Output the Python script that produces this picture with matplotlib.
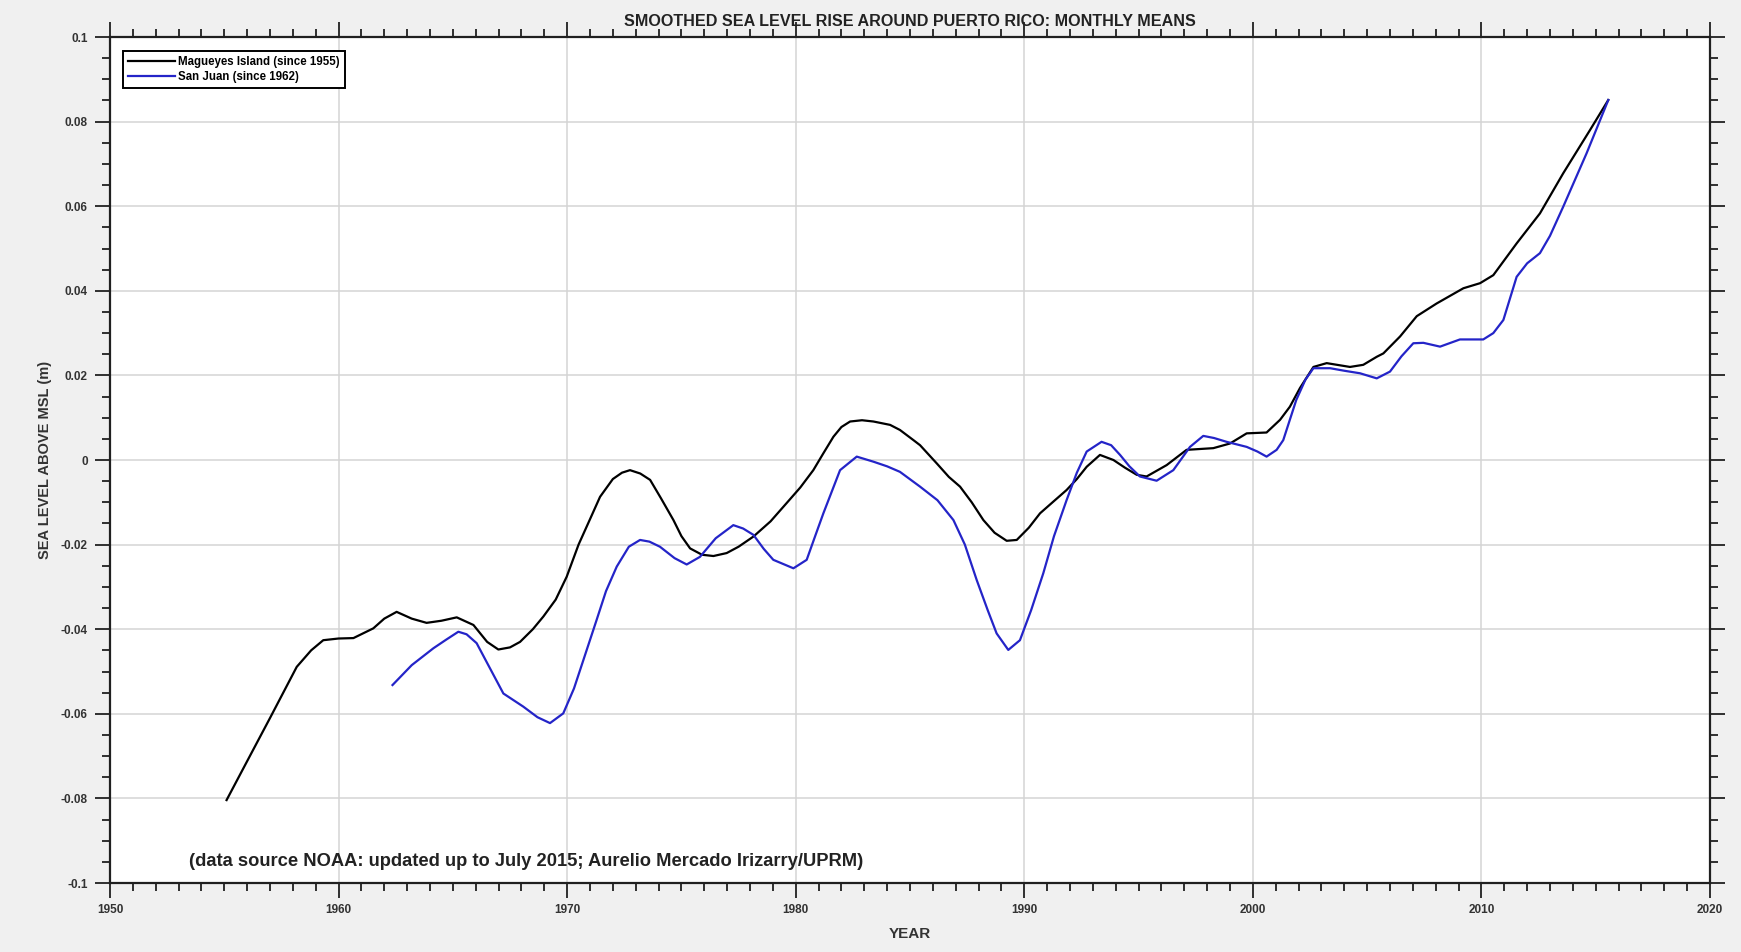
import matplotlib
matplotlib.use("Agg")
import matplotlib.pyplot as plt
from matplotlib.ticker import MultipleLocator, FuncFormatter

# ---- data ----
mag_year = [1955.1, 1956.0, 1957.0, 1958.17, 1958.8, 1959.33, 1960.0, 1960.65, 1961.52, 1962.0,
            1962.54, 1963.2, 1963.85, 1964.5, 1965.17, 1965.9, 1966.5, 1966.99, 1967.5, 1967.94,
            1968.5, 1968.96, 1969.5, 1969.98, 1970.5, 1971.0, 1971.44, 1972.0, 1972.4, 1972.75,
            1973.2, 1973.63, 1974.1, 1974.65, 1975.0, 1975.38, 1975.9, 1976.4, 1976.98, 1977.5,
            1978.15, 1978.9, 1979.6, 1980.2, 1980.77, 1981.2, 1981.65, 1982.0, 1982.38, 1982.9,
            1983.4, 1984.13, 1984.56, 1985.15, 1985.44, 1986.17, 1986.7, 1987.19, 1987.7, 1988.21,
            1988.7, 1989.23, 1989.67, 1990.2, 1990.69, 1991.3, 1991.85, 1992.3, 1992.73, 1993.31,
            1993.9, 1994.4, 1994.92, 1995.35, 1996.23, 1997.1, 1998.27, 1999.0, 1999.73, 2000.6,
            2001.19, 2001.62, 2002.06, 2002.65, 2003.23, 2004.25, 2004.83, 2005.42, 2005.71, 2006.44,
            2007.17, 2008.04, 2009.21, 2009.94, 2010.52, 2011.54, 2012.56, 2013.58, 2014.75, 2015.55]
mag_level = [-0.0804, -0.0712, -0.0610, -0.0489, -0.0450, -0.0426, -0.0422, -0.0421, -0.0398, -0.0375,
             -0.0359, -0.0375, -0.0385, -0.0380, -0.0372, -0.0390, -0.0430, -0.0448, -0.0443, -0.0430,
             -0.0400, -0.0370, -0.0330, -0.0276, -0.0200, -0.0140, -0.0087, -0.0045, -0.0030, -0.0024,
             -0.0032, -0.0047, -0.0090, -0.0142, -0.0180, -0.0209, -0.0224, -0.0227, -0.0220, -0.0205,
             -0.0181, -0.0145, -0.0102, -0.0065, -0.0024, 0.0015, 0.0055, 0.0078, 0.0091, 0.0094,
             0.0091, 0.0083, 0.0071, 0.0047, 0.0035, -0.0008, -0.0040, -0.0063, -0.0100, -0.0142,
             -0.0172, -0.0191, -0.0189, -0.0160, -0.0126, -0.0097, -0.0071, -0.0045, -0.0016, 0.0012,
             0.0000, -0.0018, -0.0035, -0.0039, -0.0012, 0.0024, 0.0028, 0.0039, 0.0063, 0.0065,
             0.0095, 0.0126, 0.0170, 0.0220, 0.0229, 0.0220, 0.0225, 0.0244, 0.0252, 0.0292,
             0.0340, 0.0370, 0.0406, 0.0418, 0.0437, 0.0512, 0.0583, 0.0678, 0.0780, 0.0851]

sj_year = [1962.36, 1963.2, 1964.15, 1964.7, 1965.24, 1965.6, 1966.04, 1966.6, 1967.21, 1968.08,
           1968.7, 1969.25, 1969.83, 1970.3, 1970.71, 1971.29, 1971.7, 1972.17, 1972.7, 1973.19,
           1973.6, 1974.06, 1974.7, 1975.23, 1975.81, 1976.5, 1977.27, 1977.7, 1978.15, 1978.6,
           1979.02, 1979.9, 1980.48, 1980.85, 1981.21, 1981.94, 1982.67, 1983.4, 1984.0, 1984.56,
           1985.44, 1986.2, 1986.9, 1987.4, 1987.92, 1988.4, 1988.79, 1989.3, 1989.81, 1990.3,
           1990.83, 1991.3, 1991.85, 1992.3, 1992.73, 1993.38, 1993.8, 1994.19, 1994.6, 1995.06,
           1995.79, 1996.52, 1997.25, 1997.83, 1998.3, 1998.85, 1999.73, 2000.2, 2000.6, 2001.04,
           2001.33, 2001.9, 2002.3, 2002.65, 2003.38, 2004.0, 2004.69, 2005.42, 2006.0, 2006.5,
           2007.02, 2007.46, 2008.19, 2009.06, 2010.08, 2010.52, 2010.96, 2011.54, 2012.0, 2012.56,
           2013.0, 2013.58, 2014.6, 2015.55]
sj_level = [-0.0532, -0.0485, -0.0445, -0.0425, -0.0406, -0.0412, -0.0433, -0.0490, -0.0552, -0.0583,
            -0.0608, -0.0622, -0.0599, -0.0540, -0.0473, -0.0378, -0.0310, -0.0252, -0.0205, -0.0189,
            -0.0193, -0.0205, -0.0232, -0.0247, -0.0229, -0.0185, -0.0154, -0.0162, -0.0177, -0.0210,
            -0.0236, -0.0256, -0.0236, -0.0180, -0.0126, -0.0024, 0.0008, -0.0004, -0.0015, -0.0028,
            -0.0063, -0.0095, -0.0142, -0.0200, -0.0284, -0.0355, -0.0410, -0.0449, -0.0426, -0.0355,
            -0.0268, -0.0180, -0.0095, -0.0030, 0.0020, 0.0043, 0.0035, 0.0012, -0.0015, -0.0039,
            -0.0049, -0.0024, 0.0031, 0.0057, 0.0052, 0.0043, 0.0031, 0.0020, 0.0008, 0.0024,
            0.0047, 0.0142, 0.0190, 0.0217, 0.0217, 0.0211, 0.0205, 0.0193, 0.0209, 0.0245,
            0.0276, 0.0277, 0.0268, 0.0285, 0.0285, 0.0300, 0.0331, 0.0433, 0.0465, 0.0489,
            0.0530, 0.0599, 0.0725, 0.0851]

series_labels = ["Magueyes Island (since 1955)", "San Juan (since 1962)"]
title_text = "SMOOTHED SEA LEVEL RISE AROUND PUERTO RICO: MONTHLY MEANS"
note_text = "(data source NOAA: updated up to July 2015; Aurelio Mercado Irizarry/UPRM)"

# ---- figure ----
plt.rcParams['font.family'] = ['Liberation Sans', 'DejaVu Sans']
plt.rcParams['font.weight'] = 'bold'

fig = plt.figure(figsize=(17.41, 9.52), dpi=100, facecolor='#f0f0f0')
ax = fig.add_axes([110/1741, 1 - 883/952, 1600/1741, 846/952])
ax.set_facecolor('white')

ax.plot(mag_year, mag_level, color='black', lw=1.6, label=series_labels[0], zorder=3,
        solid_joinstyle='round')
ax.plot(sj_year, sj_level, color='#2424c8', lw=1.6, label=series_labels[1], zorder=3,
        solid_joinstyle='round')

ax.set_xlim(1950, 2020)
ax.set_ylim(-0.1, 0.1)
ax.xaxis.set_major_locator(MultipleLocator(10))
ax.xaxis.set_minor_locator(MultipleLocator(1))
ax.yaxis.set_major_locator(MultipleLocator(0.02))
ax.yaxis.set_minor_locator(MultipleLocator(0.005))
ax.yaxis.set_major_formatter(FuncFormatter(lambda v, p: '0' if abs(v) < 1e-9 else '%g' % round(v, 3)))

ax.grid(True, which='major', color='#d4d4d4', lw=1.1, zorder=0)
ax.set_axisbelow(True)

ax.tick_params(which='both', direction='out', top=True, right=True, labeltop=False, labelright=False,
               width=1.3, color='#202020', labelsize=8.5, labelcolor='#333333')
ax.tick_params(which='major', length=11)
ax.tick_params(which='minor', length=5.5)
ax.tick_params(axis='x', which='major', pad=4)
ax.tick_params(axis='y', which='major', pad=5)
for lab in ax.get_xticklabels() + ax.get_yticklabels():
    lab.set_fontweight('bold')
for s in ax.spines.values():
    s.set_linewidth(1.6)
    s.set_color('#202020')

ax.set_xlabel('YEAR', fontsize=11, fontweight='bold', color='#333333', labelpad=8)
ax.set_ylabel('SEA LEVEL ABOVE MSL (m)', fontsize=10.5, fontweight='bold', color='#333333', labelpad=6)
fig.text(910/1741, 1 - 21/952, title_text, ha='center', va='center', fontsize=11.6,
         fontweight='bold', color='#222222')

ax.text(1953.46, -0.0950, note_text, fontsize=13.2, fontweight='bold', color='#222222',
        ha='left', va='center')

leg = ax.legend(loc='upper left', bbox_to_anchor=((123 - 110) / 1600, 1 - (51 - 37) / 846),
                borderaxespad=0, prop={'size': 8.3, 'weight': 'bold'}, frameon=True, fancybox=False,
                edgecolor='black', handlelength=4.1, handletextpad=0.3, labelspacing=0.3,
                borderpad=0.4)
leg.get_frame().set_linewidth(1.4)
leg.get_frame().set_facecolor('white')
leg.get_frame().set_alpha(1)

fig.savefig('out.png', dpi=100, facecolor=fig.get_facecolor())
